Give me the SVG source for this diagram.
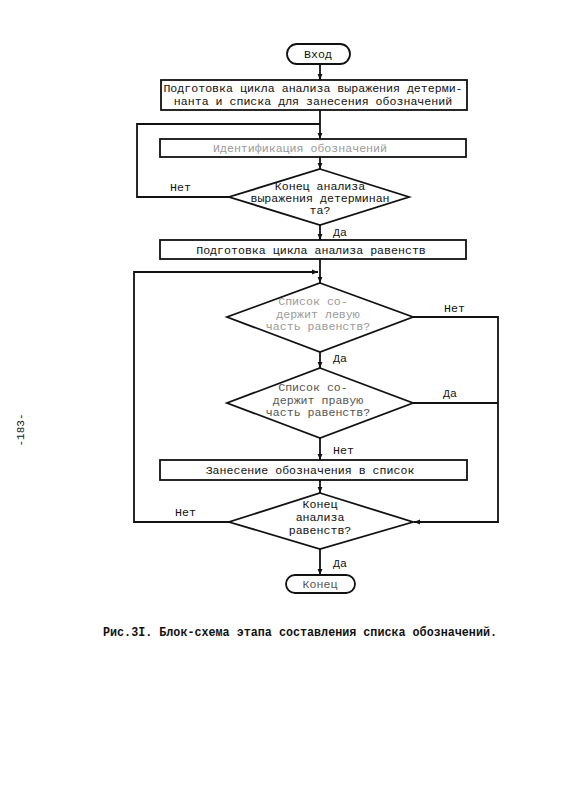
<svg xmlns="http://www.w3.org/2000/svg" width="567" height="800" viewBox="0 0 567 800">
<style>
.ln{fill:none;stroke:#111;stroke-width:1.8}
.bx{fill:#fff;stroke:#111;stroke-width:1.8}
.t{font-family:"Liberation Mono","DejaVu Sans Mono",monospace;font-size:11.6px;fill:#111;text-anchor:middle}
.f{fill:#9a9a9a}
.m{fill:#555}
.lb{font-family:"Liberation Mono","DejaVu Sans Mono",monospace;font-size:11.6px;fill:#111}
</style>
<defs>
<marker id="ar" viewBox="0 0 10 10" refX="10" refY="5" markerWidth="6" markerHeight="6" orient="auto" markerUnits="userSpaceOnUse">
<path d="M0,1 L10,5 L0,9 z" fill="#111"/>
</marker>
</defs>
<rect width="567" height="800" fill="#fff"/>
<g id="connectors">
<path class="ln" d="M320,64 V80" marker-end="url(#ar)"/>
<path class="ln" d="M320,110 V139" marker-end="url(#ar)"/>
<path class="ln" d="M229,197 H137 V124 H320"/>
<path class="ln" d="M320,157 V169" marker-end="url(#ar)"/>
<path class="ln" d="M320,225 V240" marker-end="url(#ar)"/>
<path class="ln" d="M320,259 V283" marker-end="url(#ar)"/>
<path class="ln" d="M229,522 H134 V272 H318" marker-end="url(#ar)"/>
<path class="ln" d="M320,352 V368" marker-end="url(#ar)"/>
<path class="ln" d="M413,317 H498 V522 H414" marker-end="url(#ar)"/>
<path class="ln" d="M413,403 H498"/>
<path class="ln" d="M320,438 V460" marker-end="url(#ar)"/>
<path class="ln" d="M320,480 V493" marker-end="url(#ar)"/>
<path class="ln" d="M320,549 V575" marker-end="url(#ar)"/>
<text class="lb" x="170" y="191">Нет</text>
<text class="lb" x="333" y="236">Да</text>
<text class="lb" x="444" y="312">Нет</text>
<text class="lb" x="333" y="362">Да</text>
<text class="lb" x="443" y="397">Да</text>
<text class="lb" x="333" y="454">Нет</text>
<text class="lb" x="175" y="516">Нет</text>
<text class="lb" x="333" y="567">Да</text>
</g>
<g id="start">
<rect class="bx" x="287" y="44" width="63" height="20" rx="10"/>
<text class="t" x="318" y="58">Вход</text>
</g>
<g id="box1">
<rect class="bx" x="161" y="80" width="306" height="30"/>
<text class="t" x="313" y="92">Подготовка цикла анализа выражения детерми-</text>
<text class="t" x="313" y="105">нанта и списка для занесения  обозначений</text>
</g>
<g id="box2">
<rect class="bx" x="160" y="139" width="306" height="18"/>
<text class="t f" x="300" y="152">Идентификация  обозначений</text>
</g>
<g id="diamond1">
<path class="bx" d="M320,169 L409,197 L320,225 L229,197 Z"/>
<text class="t" x="320" y="190">Конец анализа</text>
<text class="t" x="320" y="202">выражения детерминан</text>
<text class="t" x="320" y="214">та?</text>
</g>
<g id="box3">
<rect class="bx" x="160" y="240" width="306" height="19"/>
<text class="t" x="311" y="254">Подготовка цикла анализа равенств</text>
</g>
<g id="diamond2">
<path class="bx" d="M320,283 L413,317 L320,352 L227,317 Z"/>
<text class="t f" x="313" y="305">Список со-</text>
<text class="t f" x="318" y="318">держит  левую</text>
<text class="t f" x="318" y="330">часть равенств?</text>
</g>
<g id="diamond3">
<path class="bx" d="M320,368 L413,403 L320,438 L227,403 Z"/>
<text class="t m" x="313" y="391">Список со-</text>
<text class="t m" x="318" y="404">держит  правую</text>
<text class="t m" x="318" y="416">часть равенств?</text>
</g>
<g id="box4">
<rect class="bx" x="160" y="460" width="307" height="20"/>
<text class="t" x="310" y="474">Занесение  обозначения  в список</text>
</g>
<g id="diamond4">
<path class="bx" d="M320,493 L413,522 L320,549 L229,522 Z"/>
<text class="t" x="320" y="508">Конец</text>
<text class="t" x="320" y="521">анализа</text>
<text class="t" x="320" y="534">равенств?</text>
</g>
<g id="end">
<rect class="bx" x="286" y="575" width="69" height="18" rx="9"/>
<text class="t m" x="320" y="588">Конец</text>
</g>
<text class="lb" x="103" y="636" textLength="394" lengthAdjust="spacingAndGlyphs" style="font-size:12px;font-weight:bold">Рис.3I. Блок-схема этапа составления списка обозначений.</text>
<text class="t" transform="translate(24,430) rotate(-90)" style="font-size:11px">-183-</text>
</svg>
